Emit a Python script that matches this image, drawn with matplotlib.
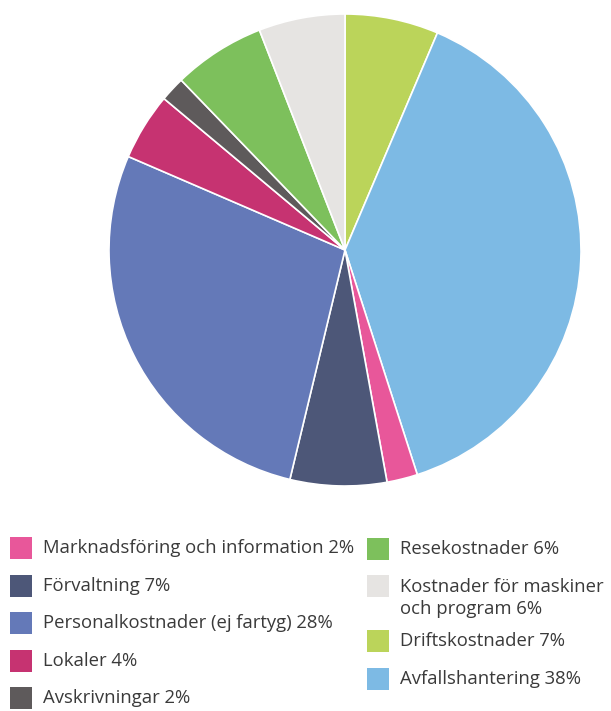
import matplotlib
matplotlib.use("Agg")
import matplotlib.pyplot as plt
from matplotlib.patches import Rectangle

# slices clockwise from 12 o'clock
slice_names = ["Driftskostnader", "Avfallshantering", "Marknadsföring", "Förvaltning",
               "Personalkostnader", "Lokaler", "Avskrivningar", "Resekostnader",
               "Kostnader för maskiner"]
slice_values = [6.4, 38.6, 2.1, 6.6, 27.7, 4.6, 1.7, 6.3, 5.9]
slice_colors = ["#BBD45A", "#7DBAE4", "#E8579A", "#4D5778", "#6479B8",
                "#C63371", "#5E5A5B", "#7DC05C", "#E6E4E2"]

# legend, two columns
left_labels = ["Marknadsföring och information 2%", "Förvaltning 7%",
               "Personalkostnader (ej fartyg) 28%", "Lokaler 4%", "Avskrivningar 2%"]
left_colors = ["#E8579A", "#4D5778", "#6479B8", "#C63371", "#5E5A5B"]
right_labels = ["Resekostnader 6%", "Kostnader för maskiner\noch program 6%",
                "Driftskostnader 7%", "Avfallshantering 38%"]
right_colors = ["#7DC05C", "#E6E4E2", "#BBD45A", "#7DBAE4"]

W, H = 611, 711
fig = plt.figure(figsize=(W / 100, H / 100), dpi=100)

cx, cy, r = 345, 250, 236
ax = fig.add_axes([(cx - r) / W, (H - cy - r) / H, 2 * r / W, 2 * r / H])
ax.pie(slice_values, colors=slice_colors, startangle=90, counterclock=False,
       radius=1, wedgeprops=dict(edgecolor="white", linewidth=1.2))
ax.set_xlim(-1, 1)
ax.set_ylim(-1, 1)
ax.set_aspect("equal")
ax.axis("off")

txt_kw = dict(fontsize=13.3, color="#3a3a3a", family="Open Sans", va="center",
              linespacing=1.3)


def legend_item(x, y, label, color, y_text=None):
    fig.patches.append(Rectangle((x / W, 1 - (y + 11) / H), 22 / W, 22 / H,
                                 transform=fig.transFigure, facecolor=color,
                                 edgecolor="none"))
    fig.text((x + 33) / W, 1 - (y_text if y_text else y) / H, label, **txt_kw)


left_y = [548, 586, 623, 661, 698]
for y, lab, col in zip(left_y, left_labels, left_colors):
    legend_item(10, y, lab, col)

right_y = [549, 586, 641, 679]
for y, lab, col in zip(right_y, right_labels, right_colors):
    if "\n" in lab:
        legend_item(367, y, lab, col, y_text=y + 12)
    else:
        legend_item(367, y, lab, col)

fig.savefig("out.png", dpi=100)
